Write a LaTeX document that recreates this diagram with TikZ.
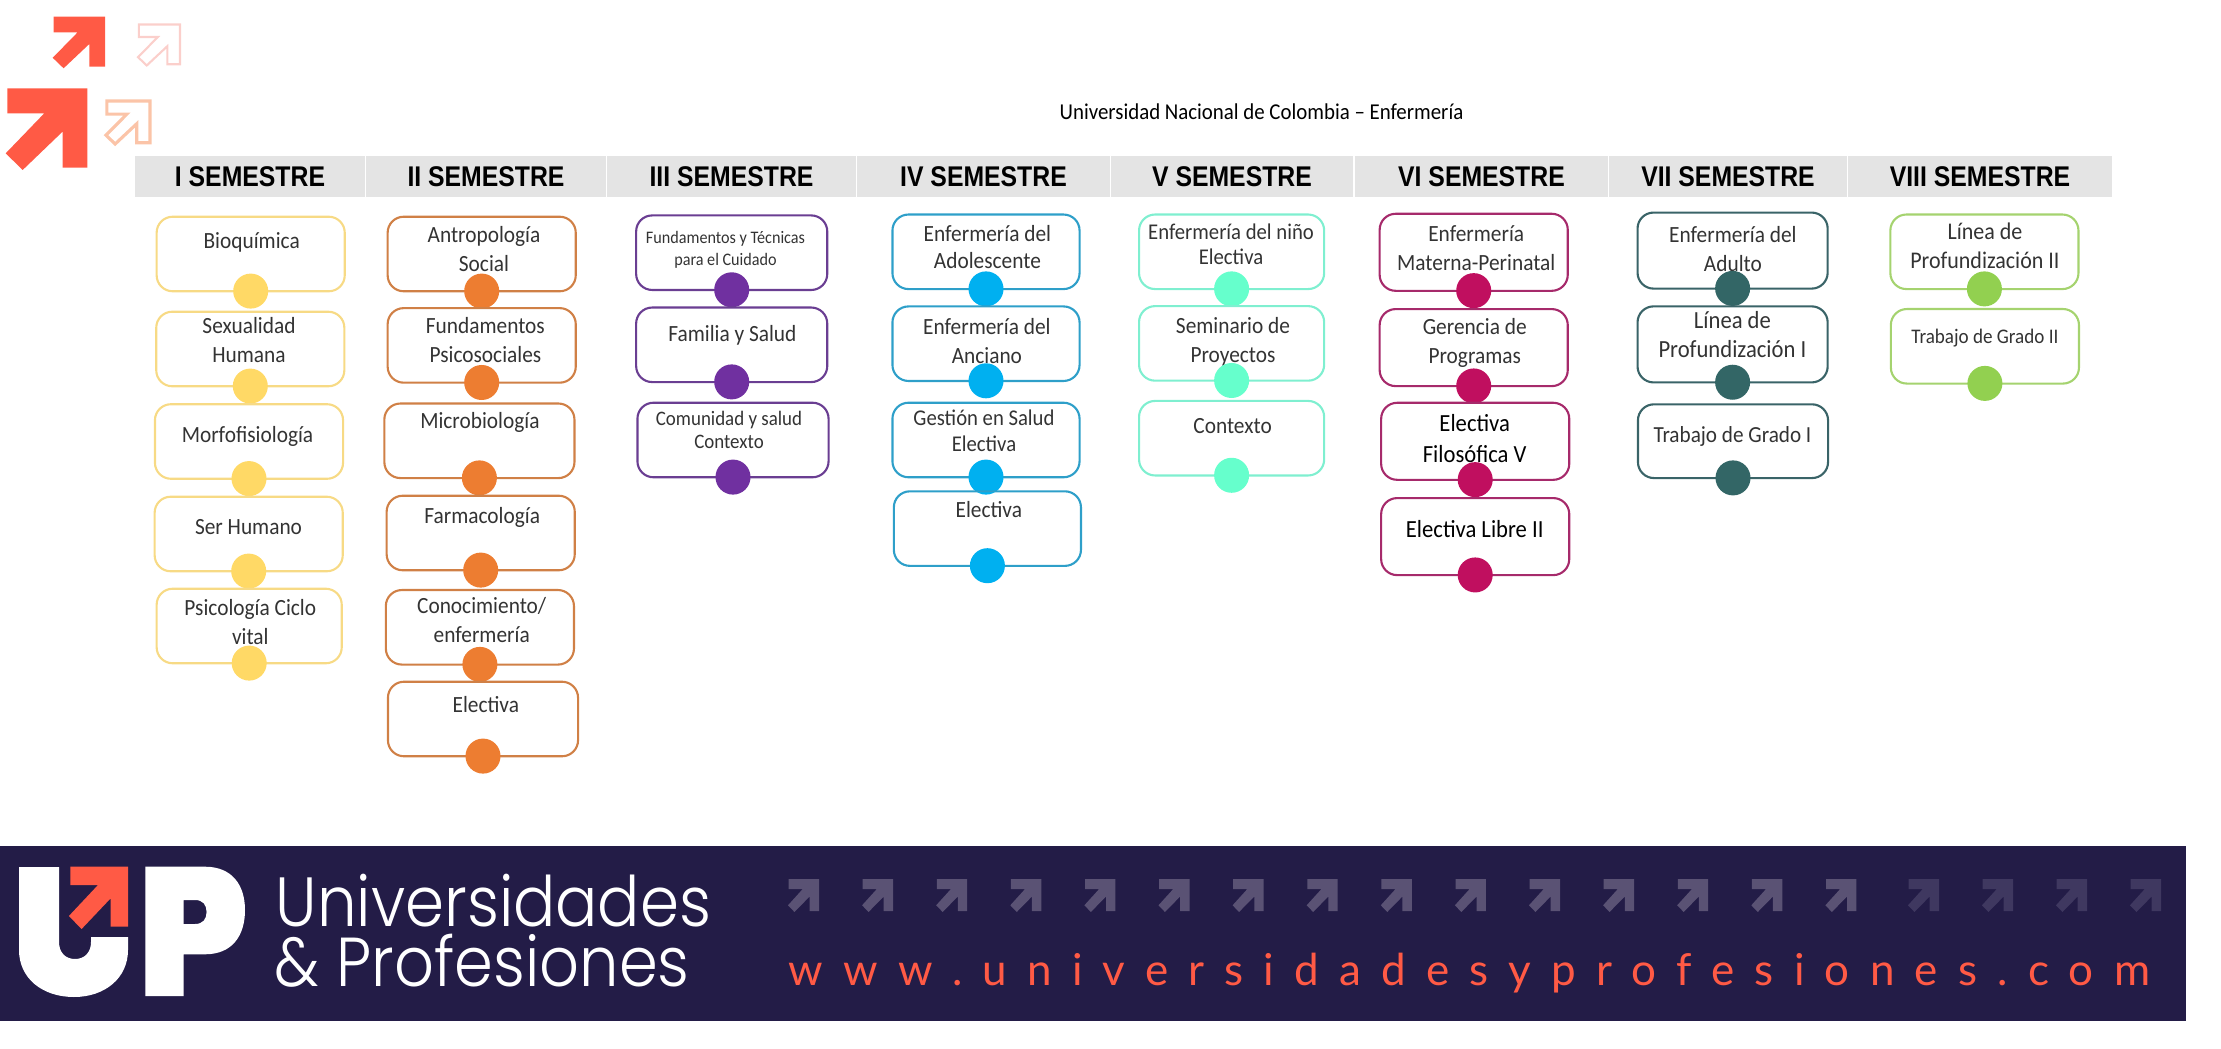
\documentclass[tikz,border=0pt]{standalone}
\usepackage{fontspec}
\setmainfont{Carlito}[FakeStretch=0.92]
\newfontfamily\headfont{Liberation Sans}[FakeStretch=0.87]
\newfontfamily\logofont{Poppins Light}[FakeStretch=0.9]
\newfontfamily\urlfont{Lato}[LetterSpace=46]
\definecolor{yelbar}{RGB}{247,218,133}
\definecolor{yelfill}{RGB}{255,217,102}
\definecolor{orgbar}{RGB}{208,128,70}
\definecolor{orgfill}{RGB}{237,125,49}
\definecolor{purbar}{RGB}{106,62,146}
\definecolor{purfill}{RGB}{112,48,160}
\definecolor{blubar}{RGB}{46,159,201}
\definecolor{blufill}{RGB}{0,176,240}
\definecolor{minbar}{RGB}{127,239,208}
\definecolor{minfill}{RGB}{102,255,204}
\definecolor{magbar}{RGB}{166,42,107}
\definecolor{magfill}{RGB}{192,15,95}
\definecolor{teabar}{RGB}{58,100,104}
\definecolor{teafill}{RGB}{51,102,102}
\definecolor{grnbar}{RGB}{165,211,111}
\definecolor{grnfill}{RGB}{146,208,80}
\definecolor{headbg}{RGB}{228,228,228}
\definecolor{txtgray}{RGB}{51,51,51}
\definecolor{bandbg}{RGB}{35,28,71}
\definecolor{uporange}{RGB}{255,90,69}
\definecolor{uppink}{RGB}{251,207,203}
\definecolor{uppeach}{RGB}{251,196,168}
\definecolor{bandarr}{RGB}{90,82,116}
\definecolor{bandarrd}{RGB}{63,56,96}
\begin{document}
\begin{tikzpicture}[
  x=0.01cm, y=-0.01cm,
  hd/.style={fill=headbg, minimum height=0.41cm, inner sep=0pt, font=\headfont\bfseries\fontsize{8.1}{9.5}\selectfont},
  crs/.style={line width=0.6pt, rounded corners=0.16cm, minimum height=0.745cm, inner sep=0pt},
  dot/.style={circle, minimum size=0.35cm, inner sep=0pt, yshift=0.35pt},
  txt/.style={align=center, inner sep=0pt, text=txtgray, font=\fontsize{6.6}{8.2}\selectfont},
  txs/.style={txt, font=\fontsize{5}{6.3}\selectfont},
  txm/.style={txt, font=\fontsize{6.4}{7.2}\selectfont},
  txb/.style={txt, text=black, font=\fontsize{7}{8.8}\selectfont},
  yel/.style={crs, draw=yelbar, minimum width=1.88cm}, yeldot/.style={dot, fill=yelfill},
  org/.style={crs, draw=orgbar, minimum width=1.88cm}, orgdot/.style={dot, fill=orgfill},
  pur/.style={crs, draw=purbar, minimum width=1.91cm}, purdot/.style={dot, fill=purfill},
  blu/.style={crs, draw=blubar, minimum width=1.87cm}, bludot/.style={dot, fill=blufill},
  mnt/.style={crs, draw=minbar, minimum width=1.85cm}, mntdot/.style={dot, fill=minfill},
  mag/.style={crs, draw=magbar, minimum width=1.88cm, minimum height=0.77cm}, magdot/.style={dot, fill=magfill},
  tea/.style={crs, draw=teabar, minimum width=1.90cm, minimum height=0.76cm}, teadot/.style={dot, fill=teafill},
  grn/.style={crs, draw=grnbar, minimum width=1.88cm}, grndot/.style={dot, fill=grnfill},
  uparrow/.pic={\path[pic actions] (0.02,0) -- (1,0) -- (1,0.97) -- (0.698,0.97) -- (0.698,0.53) -- (0.208,1) -- (0,0.796) -- (0.473,0.306) -- (0.02,0.306) -- cycle;}]
  \useasboundingbox (0,0) rectangle (2221,1049);
  % corner arrows
  \pic[fill=uporange, xscale=52.4, yscale=51.6] at (52.7,16.7) {uparrow};
  \pic[draw=uppink, line width=0.6pt, xscale=42, yscale=41] at (138,24.5) {uparrow};
  \pic[fill=uporange, xscale=81.6, yscale=81.7] at (5.7,88.3) {uparrow};
  \pic[draw=uppeach, line width=0.9pt, xscale=44, yscale=43] at (106,101) {uparrow};
  \node[txt, text=black, font=\fontsize{6.45}{7.5}\selectfont] (title) at (1261.5,112) {Universidad Nacional de Colombia -- Enfermería};
  % semester heads
  \node[hd, minimum width=2.30cm] (sem1) at (250,176.5) {I SEMESTRE};
  \node[hd, minimum width=2.40cm] (sem2) at (486,176.5) {II SEMESTRE};
  \node[hd, minimum width=2.49cm] (sem3) at (731.5,176.5) {III SEMESTRE};
  \node[hd, minimum width=2.53cm] (sem4) at (983.5,176.5) {IV SEMESTRE};
  \node[hd, minimum width=2.42cm] (sem5) at (1232,176.5) {V SEMESTRE};
  \node[hd, minimum width=2.53cm] (sem6) at (1481.5,176.5) {VI SEMESTRE};
  \node[hd, minimum width=2.38cm] (sem7) at (1728,176.5) {VII SEMESTRE};
  \node[hd, minimum width=2.64cm] (sem8) at (1980,176.5) {VIII SEMESTRE};
  % I
  \node[yel] (bioq) at (250.7,254) {}; \node[txt] (bioqt) at (251.7,242.8) {Bioquímica}; \node[yeldot] (bioqd) at (bioq.south) {};
  \node[yel] (sexu) at (250.3,349) {}; \node[txt] (sexut) at (249,339.8) {Sexualidad\\Humana}; \node[yeldot] (sexud) at (sexu.south) {};
  \node[yel] (morf) at (249,441.5) {}; \node[txt] (morft) at (247.5,436.8) {Morfofisiología}; \node[yeldot] (morfd) at (morf.south) {};
  \node[yel] (serh) at (248.7,534) {}; \node[txt] (serht) at (248.5,527) {Ser Humano}; \node[yeldot] (serhd) at (serh.south) {};
  \node[yel, minimum width=1.85cm] (psic) at (249.2,626) {}; \node[txt] (psict) at (250.3,621.7) {Psicología Ciclo\\vital}; \node[yeldot] (psicd) at (psic.south) {};
  % II
  \node[org] (antr) at (481.7,254) {}; \node[txt] (antrt) at (484,249.2) {Antropología\\Social}; \node[orgdot] (antrd) at (antr.south) {};
  \node[org] (fpsi) at (481.7,345.4) {}; \node[txt] (fpsit) at (485.4,339.8) {Fundamentos\\Psicosociales}; \node[orgdot] (fpsid) at (fpsi.south) {};
  \node[org, minimum width=1.90cm] (micr) at (479.4,440.8) {}; \node[txt] (micrt) at (479.9,422.6) {Microbiología}; \node[orgdot] (micrd) at (micr.south) {};
  \node[org] (farm) at (480.7,533) {}; \node[txt] (farmt) at (482.2,517.7) {Farmacología}; \node[orgdot] (farmd) at (farm.south) {};
  \node[org] (cono) at (479.9,627.3) {}; \node[txt] (conot) at (481.7,619.7) {Conocimiento/\\enfermería}; \node[orgdot] (conod) at (cono.south) {};
  \node[org, minimum width=1.90cm] (elec) at (483,719) {}; \node[txt] (elect) at (485.8,705) {Electiva}; \node[orgdot] (elecd) at (elec.south) {};
  % III
  \node[pur] (ftec) at (731.7,252.7) {}; \node[txs] (ftect) at (725.5,249.5) {Fundamentos y Técnicas\\para el Cuidado}; \node[purdot] (ftecd) at (ftec.south) {};
  \node[pur] (fami) at (731.7,344.8) {}; \node[txt] (famit) at (732.4,335.5) {Familia y Salud}; \node[purdot] (famid) at (fami.south) {};
  \node[pur] (comu) at (733,440) {}; \node[txs, font=\fontsize{5.85}{6.6}\selectfont] (comut) at (729,429.7) {Comunidad y salud\\Contexto}; \node[purdot] (comud) at (comu.south) {};
  % IV
  \node[blu] (adol) at (986,251.8) {}; \node[txt, font=\fontsize{6.6}{7.9}\selectfont] (adolt) at (987.4,247) {Enfermería del\\Adolescente}; \node[bludot] (adold) at (adol.south) {};
  \node[blu] (anci) at (986,343.7) {}; \node[txt] (ancit) at (986.9,341.4) {Enfermería del\\Anciano}; \node[bludot] (ancid) at (anci.south) {};
  \node[blu] (gest) at (986,440) {}; \node[txm] (gestt) at (984,430.8) {Gestión en Salud\\Electiva}; \node[bludot] (gestd) at (gest.south) {};
  \node[blu] (ele4) at (987.4,528.6) {}; \node[txt] (ele4t) at (988.8,510) {Electiva}; \node[bludot] (ele4d) at (ele4.south) {};
  % V
  \node[mnt] (nino) at (1231.6,251.8) {}; \node[txm] (ninot) at (1231,244.4) {Enfermería del niño\\Electiva}; \node[mntdot] (ninod) at (nino.south) {};
  \node[mnt] (semi) at (1231.6,343.4) {}; \node[txt] (semit) at (1233,341.5) {Seminario de\\Proyectos}; \node[mntdot] (semid) at (semi.south) {};
  \node[mnt] (con5) at (1231.6,438.2) {}; \node[txt] (con5t) at (1232.6,426) {Contexto}; \node[mntdot] (con5d) at (con5.south) {};
  % VI
  \node[mag] (mate) at (1473.7,252.3) {}; \node[txt] (matet) at (1476.2,247.8) {Enfermería\\Materna-Perinatal}; \node[magdot] (mated) at (mate.south) {};
  \node[mag] (gere) at (1473.7,347.6) {}; \node[txt] (geret) at (1474.7,343) {Gerencia de\\Programas}; \node[magdot] (gered) at (gere.south) {};
  \node[mag] (filo) at (1475.2,441.3) {}; \node[txb] (filot) at (1474.7,438.3) {Electiva\\Filosófica V}; \node[magdot] (filod) at (filo.south) {};
  \node[mag] (libr) at (1475.2,536.6) {}; \node[txb] (librt) at (1474.7,529) {Electiva Libre II}; \node[magdot] (librd) at (libr.south) {};
  % VII
  \node[tea] (adul) at (1732.6,250.6) {}; \node[txt] (adult) at (1732.9,249.2) {Enfermería del\\Adulto}; \node[teadot] (aduld) at (adul.south) {};
  \node[tea] (lin1) at (1732.6,344.4) {}; \node[txt, font=\fontsize{7}{8.2}\selectfont] (lin1t) at (1732.4,334.7) {Línea de\\Profundización I}; \node[teadot] (lin1d) at (lin1.south) {};
  \node[tea, minimum height=0.737cm] (tra1) at (1733,441.2) {}; \node[txt, font=\fontsize{6.55}{7.5}\selectfont] (tra1t) at (1732.4,436.5) {Trabajo de Grado I}; \node[teadot] (tra1d) at (tra1.south) {};
  % VIII
  \node[grn] (lin2) at (1984.4,251.8) {}; \node[txt, font=\fontsize{6.8}{8.2}\selectfont] (lin2t) at (1984.9,246.2) {Línea de\\Profundización II}; \node[grndot] (lin2d) at (lin2.south) {};
  \node[grn] (tra2) at (1984.9,346.3) {}; \node[txm, font=\fontsize{5.9}{7}\selectfont] (tra2t) at (1984.9,338.4) {Trabajo de Grado II}; \node[grndot] (tra2d) at (tra2.south) {};
  % band
  \fill[bandbg] (0,846) rectangle (2186,1021);
  \fill[white] (19,867) -- (59,867) -- (59,942) .. controls (59,952) and (65,959) .. (75,959) .. controls (85,959) and (91,952) .. (91,942) -- (91,937) -- (128,937) -- (128,950) .. controls (128,978) and (105,997) .. (74,997) .. controls (42,997) and (19,978) .. (19,950) -- cycle;
  \fill[uporange] (70.4,866.7) -- (128,866.7) -- (128,926.7) -- (110.7,926.7) -- (110.7,898.3) -- (81.6,929) -- (68.9,916) -- (98,885) -- (70.4,885) -- cycle;
  \fill[white, even odd rule] (145.4,866.7) -- (205,866.7) .. controls (232,866.7) and (245,885) .. (245,910) .. controls (245,936) and (232,954.3) .. (205,954.3) -- (183.7,954.3) -- (183.7,996) -- (145.4,996) -- cycle (183.7,900) -- (183.7,924) -- (195,924) .. controls (203,924) and (206.6,919) .. (206.6,912) .. controls (206.6,905) and (203,900) .. (195,900) -- cycle;
  \node[anchor=base west, inner sep=0pt, text=white, font=\logofont\fontsize{19.8}{22}\selectfont] (upname) at (275,926.5) {Universidades};
  \node[anchor=base west, inner sep=0pt, text=white, font=\logofont\fontsize{19.7}{22}\selectfont] (upname2) at (274,986) {\& Profesiones};
  \foreach \i in {0,...,14} \pic[fill=bandarr, xscale=31, yscale=33] at (788+74.1*\i,879) {uparrow};
  \foreach \i in {0,...,3} \pic[fill=bandarrd, xscale=31, yscale=33] at (1908+74*\i,879) {uparrow};
  \node[anchor=base west, inner sep=0pt, text=uporange, font=\urlfont\fontsize{12.5}{15}\selectfont] (upurl) at (788,985) {www.universidadesyprofesiones.com};
\end{tikzpicture}
\end{document}
